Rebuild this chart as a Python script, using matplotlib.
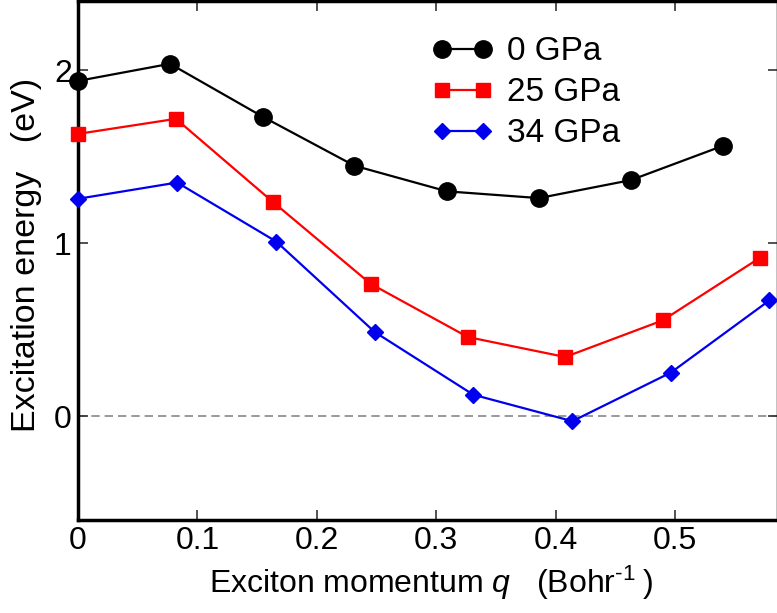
import matplotlib
matplotlib.use("Agg")
import matplotlib.pyplot as plt

plt.rcParams['font.family'] = ['Liberation Sans', 'DejaVu Sans']
plt.rcParams['mathtext.fontset'] = 'custom'
plt.rcParams['mathtext.rm'] = 'Liberation Sans'
plt.rcParams['mathtext.it'] = 'Liberation Sans:italic'

# Exciton dispersion at three pressures
q_0gpa = [0.0, 0.077, 0.155, 0.2315, 0.309, 0.386, 0.463, 0.540]
e_0gpa = [1.937, 2.036, 1.729, 1.447, 1.299, 1.260, 1.364, 1.562]

q_25gpa = [0.0, 0.082, 0.163, 0.245, 0.3265, 0.408, 0.4895, 0.571]
e_25gpa = [1.631, 1.718, 1.239, 0.765, 0.457, 0.342, 0.553, 0.915]

q_34gpa = [0.0, 0.083, 0.166, 0.2485, 0.331, 0.414, 0.4965, 0.579]
e_34gpa = [1.256, 1.350, 1.009, 0.486, 0.124, -0.029, 0.252, 0.669]

labels = ['0 GPa', '25 GPa', '34 GPa']
x_ticks = [0, 0.1, 0.2, 0.3, 0.4, 0.5]
x_tick_labels = ['0', '0.1', '0.2', '0.3', '0.4', '0.5']
y_ticks = [0, 1, 2]

fig = plt.figure(figsize=(7.77, 6.13), dpi=100)
ax = fig.add_axes([0.1004, 0.1517, 0.9006, 0.847])

ax.axhline(0, color='#888888', lw=1.2, ls=(0, (5, 3)), zorder=1)

ax.plot(q_0gpa, e_0gpa, '-o', color='black', lw=1.6, ms=12.5, label=labels[0], clip_on=False, zorder=3)
ax.plot(q_25gpa, e_25gpa, '-s', color='#ff0000', lw=1.6, ms=10.5, label=labels[1], clip_on=False, zorder=3)
ax.plot(q_34gpa, e_34gpa, '-D', color='#0000ee', lw=1.6, ms=8.5, label=labels[2], clip_on=False, zorder=3)

ax.set_xlim(0, 0.586)
ax.set_ylim(-0.6, 2.4)
ax.set_xticks(x_ticks)
ax.set_xticklabels(x_tick_labels)
ax.set_yticks(y_ticks)

for s in ax.spines.values():
    s.set_linewidth(2.5)

ax.tick_params(direction='in', length=7, width=1.2, top=True, right=True,
               labelsize=23, pad=4.5, color='#333333')

ax.set_xlabel(r'Exciton momentum $\mathit{q}$   (Bohr$^{\text{-}1}\;$)', fontsize=23)
ax.xaxis.set_label_coords(0.505, -0.085)
ax.set_ylabel('Excitation energy   (eV)', fontsize=24.5)
ax.yaxis.set_label_coords(-0.052, 0.51)

leg = ax.legend(loc='upper left', bbox_to_anchor=(0.487, 0.957), frameon=False,
                fontsize=24, numpoints=2, handlelength=1.84, handletextpad=0.4,
                labelspacing=0.3, borderaxespad=0.0)

fig.savefig('out.png', dpi=100)
